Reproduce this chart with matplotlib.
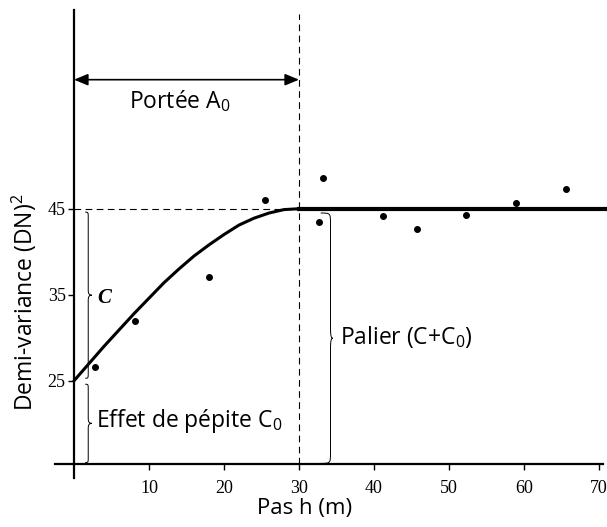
import matplotlib
matplotlib.use('Agg')
import matplotlib.pyplot as plt
from matplotlib.path import Path
from matplotlib.patches import PathPatch

plt.rcParams['font.family'] = ['Open Sans', 'DejaVu Sans']
plt.rcParams['mathtext.fontset'] = 'custom'
plt.rcParams['mathtext.rm'] = 'Open Sans'
plt.rcParams['mathtext.it'] = 'Open Sans:italic'

# points observés (pas h, demi-variance)
pas = [2.8, 8.1, 18.0, 25.5, 32.7, 33.2, 41.2, 45.7, 52.3, 58.9, 65.6]
semivar = [26.6, 32.0, 37.1, 46.0, 43.4, 48.6, 44.1, 42.6, 44.3, 45.7, 47.3]

# modèle ajusté
modele_h = [0, 2, 4, 6, 8, 10, 12, 14, 16, 18, 20, 22, 24, 26, 28, 30]
modele_g = [25.0, 27.0, 29.0, 30.9, 32.8, 34.6, 36.4, 38.0, 39.5, 40.8,
            42.0, 43.1, 43.9, 44.5, 44.9, 45.0]
palier_h = [30, 70.8]
palier_g = [45, 45]

pepite = 25
palier = 45
portee = 30
y_axe_x = 15.3

xticks = [10, 20, 30, 40, 50, 60, 70]
yticks = [25, 35, 45]


def accolade(ax, x, y0, y1, pointe, boucle, r):
    ym = (y0 + y1) / 2
    verts = [(x - boucle, y0), (x, y0), (x, y0), (x, y0 + r),
             (x, ym - r),
             (x, ym - 0.2 * r), (x + 0.3 * pointe, ym), (x + pointe, ym),
             (x + 0.3 * pointe, ym), (x, ym + 0.2 * r), (x, ym + r),
             (x, y1 - r),
             (x, y1), (x, y1), (x - boucle, y1)]
    codes = [Path.MOVETO, Path.CURVE4, Path.CURVE4, Path.CURVE4,
             Path.LINETO,
             Path.CURVE4, Path.CURVE4, Path.CURVE4,
             Path.CURVE4, Path.CURVE4, Path.CURVE4,
             Path.LINETO,
             Path.CURVE4, Path.CURVE4, Path.CURVE4]
    ax.add_patch(PathPatch(Path(verts, codes), fc='none', ec='black', lw=0.7, clip_on=False))


fig = plt.figure(figsize=(6.07, 5.27), dpi=100)
ax = fig.add_axes([55 / 607, 49 / 527, 548 / 607, 468 / 527])
ax.set_xlim(-2.53, 70.53)
ax.set_ylim(13.7, 68.1)

for s in ['top', 'right']:
    ax.spines[s].set_visible(False)
ax.spines['left'].set_position(('data', 0))
ax.spines['bottom'].set_position(('data', y_axe_x))
ax.spines['left'].set_linewidth(1.6)
ax.spines['bottom'].set_linewidth(1.6)

ax.set_xticks(xticks)
ax.set_yticks(yticks)
ax.tick_params(axis='both', direction='out', length=4, width=1, labelsize=13,
               labelfontfamily='Liberation Serif')
ax.tick_params(axis='x', pad=7)
ax.tick_params(axis='y', pad=2)

# lignes de repère
ax.plot([0, portee], [palier, palier], color='black', lw=0.8, ls=(0, (6, 4)))
ax.plot([portee, portee], [y_axe_x, 67.6], color='black', lw=0.8, ls=(0, (6, 4)))

# modèle
ax.plot(modele_h, modele_g, color='black', lw=2.2, solid_capstyle='round',
        solid_joinstyle='round')
ax.plot(palier_h, palier_g, color='black', lw=3, clip_on=False)
ax.plot(pas, semivar, 'o', color='black', ms=4)

# portée
ax.annotate('', xy=(0, 60), xytext=(portee, 60),
            arrowprops=dict(arrowstyle='<|-|>,head_length=0.6,head_width=0.25',
                            color='black', lw=1.2,
                            mutation_scale=14, shrinkA=0, shrinkB=0))
ax.text(14.1, 57.5, r'Portée A$_0$', fontsize=16.5, ha='center', va='center')

# accolades
accolade(ax, 1.9, 25.3, 44.6, 0.5, 0.4, 0.6)
ax.text(4.0, 34.6, 'C', fontsize=15, fontstyle='italic', fontweight='bold',
        family='Liberation Serif', ha='center', va='center')
accolade(ax, 1.9, y_axe_x + 0.2, 24.6, 0.5, 0.4, 0.6)
ax.text(3.0, 20.3, r'Effet de pépite C$_0$', fontsize=16.5, ha='left', va='center')
accolade(ax, 34.2, y_axe_x + 0.1, 44.5, 0.3, 1.3, 1.3)
ax.text(35.5, 30.1, r'Palier (C+C$_0$)', fontsize=16.5, ha='left', va='center')

ax.set_xlabel('Pas h (m)', fontsize=16)
ax.xaxis.set_label_coords(0.456, -0.042)
ax.set_ylabel(r'Demi-variance (DN)$^2$', fontsize=16.5)
ax.yaxis.set_label_coords(-0.03, 0.376)

plt.savefig('out.png', dpi=100)
